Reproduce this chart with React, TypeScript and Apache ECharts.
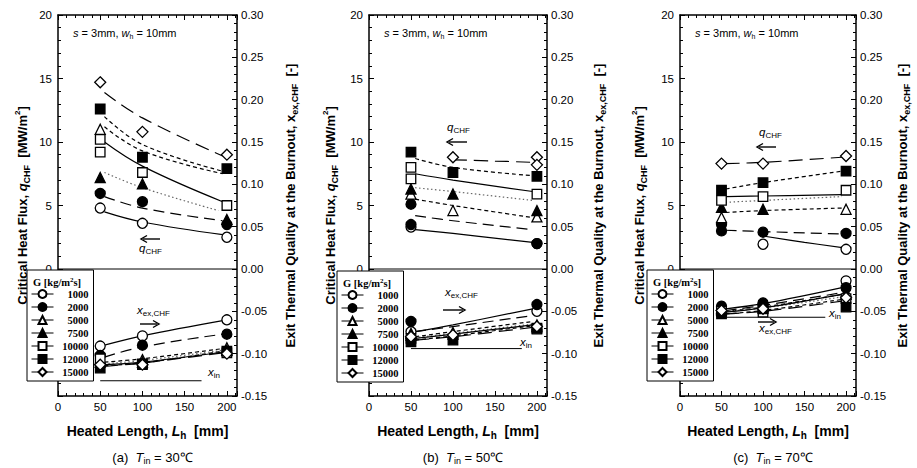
import React, { useEffect, useRef } from "react";
import * as echarts from "echarts";

// ---------------- DATA ----------------
// Mass flux levels G [kg/m2s] (order used by every nested array below)
const G_LEVELS = ["1000", "2000", "5000", "7500", "10000", "12000", "15000"];
const X_LABELS = [0, 50, 100, 150, 200];

// Panel (a) Tin = 30 C : measured q_CHF [MW/m2] as [L_h, q]
const Q_MARK_A = [
  [[50, 4.8], [100, 3.6], [200, 2.5]],
  [[50, 5.95], [100, 5.3], [200, 3.5]],
  [[50, 11.0]],
  [[50, 7.2], [100, 6.7], [200, 3.9]],
  [[50, 10.2], [50, 9.2], [100, 7.6], [200, 5.0]],
  [[50, 12.6], [100, 8.8], [200, 7.9]],
  [[50, 14.7], [100, 10.8], [200, 9.0]],
];
// correlation curves for q_CHF
const Q_FIT_A = [
  [[55, 4.5], [100, 3.7], [195, 2.7]],
  [[55, 5.7], [100, 4.8], [195, 3.8]],
  [[55, 11.2], [100, 9.3], [195, 7.5]],
  [[55, 7.6], [100, 6.4], [190, 4.6]],
  [[55, 10.0], [100, 8.1], [195, 5.3]],
  [[55, 12.0], [100, 9.8], [195, 7.7]],
  [[55, 13.9], [100, 11.9], [195, 8.9]],
];
// exit quality x_ex,CHF [-]
const X_MARK_A = [
  [[50, -0.091], [100, -0.079], [200, -0.06]],
  [[50, -0.102], [100, -0.09], [200, -0.077]],
  [[50, -0.107], [100, -0.107], [200, -0.093]],
  [[50, -0.11], [100, -0.11], [200, -0.096]],
  [[50, -0.106], [100, -0.113], [200, -0.099]],
  [[50, -0.117], [100, -0.112], [200, -0.097]],
  [[50, -0.113], [100, -0.113], [200, -0.1]],
];
const X_FIT_A = [
  [[55, -0.09], [100, -0.079], [195, -0.061]],
  [[55, -0.104], [100, -0.092], [195, -0.077]],
  [[55, -0.11], [100, -0.106], [195, -0.094]],
  [[55, -0.112], [100, -0.108], [195, -0.096]],
  [[55, -0.113], [100, -0.11], [195, -0.098]],
  [[55, -0.114], [100, -0.111], [195, -0.097]],
  [[55, -0.115], [100, -0.111], [195, -0.099]],
];
const XIN_A = [[50, -0.132], [170, -0.132]];

// Panel (b) Tin = 50 C
const Q_MARK_B = [
  [[50, 3.3], [200, 2.0]],
  [[50, 5.1], [50, 3.5], [200, 2.0]],
  [[50, 5.9], [100, 4.6], [200, 4.1]],
  [[50, 6.3], [100, 5.9], [200, 4.6]],
  [[50, 8.0], [50, 7.1], [200, 5.9]],
  [[50, 9.2], [100, 7.6], [200, 7.3]],
  [[100, 8.8], [200, 8.8], [200, 8.2]],
];
const Q_FIT_B = [
  [[55, 3.1], [100, 2.8], [195, 2.1]],
  [[55, 4.2], [100, 3.8], [195, 3.1]],
  [[55, 5.5], [100, 5.0], [195, 4.05]],
  [[55, 6.4], [100, 6.1], [195, 5.4]],
  [[55, 7.5], [100, 7.0], [195, 6.1]],
  [[55, 8.7], [100, 8.0], [195, 7.35]],
  [[100, 8.6], [150, 8.5], [195, 8.4]],
];
const X_MARK_B = [
  [[50, -0.074], [200, -0.05]],
  [[50, -0.062], [200, -0.042]],
  [[50, -0.076], [100, -0.075], [200, -0.066]],
  [[50, -0.078], [100, -0.077], [200, -0.068]],
  [[50, -0.082], [200, -0.071]],
  [[50, -0.086], [100, -0.084], [200, -0.07]],
  [[50, -0.08], [100, -0.078], [200, -0.068]],
];
const X_FIT_B = [
  [[55, -0.074], [100, -0.066], [195, -0.047]],
  [[55, -0.074], [100, -0.068], [195, -0.055]],
  [[55, -0.08], [100, -0.074], [195, -0.062]],
  [[55, -0.081], [100, -0.076], [195, -0.065]],
  [[55, -0.082], [100, -0.077], [195, -0.066]],
  [[55, -0.084], [100, -0.079], [195, -0.067]],
  [[55, -0.084], [100, -0.08], [195, -0.069]],
];
const XIN_B = [[50, -0.094], [182, -0.094]];

// Panel (c) Tin = 70 C
const Q_MARK_C = [
  [[100, 1.95], [200, 1.55]],
  [[50, 3.5], [50, 3.0], [100, 2.9], [200, 2.8]],
  [[50, 4.05], [200, 4.7]],
  [[50, 4.85], [100, 4.7]],
  [[50, 5.4], [100, 5.7], [200, 6.2]],
  [[50, 6.2], [100, 6.8], [200, 7.7]],
  [[50, 8.3], [100, 8.3], [200, 8.9]],
];
const Q_FIT_C = [
  [[100, 2.6], [150, 2.1], [200, 1.65]],
  [[55, 3.05], [100, 2.95], [195, 2.75]],
  [[55, 4.45], [100, 4.6], [195, 4.8]],
  [[55, 5.25], [100, 5.4], [195, 5.7]],
  [[55, 5.7], [100, 5.75], [195, 5.85]],
  [[55, 6.3], [100, 6.8], [195, 7.7]],
  [[55, 8.3], [100, 8.4], [195, 8.8]],
];
const X_MARK_C = [
  [[50, -0.045], [100, -0.043], [200, -0.014]],
  [[50, -0.044], [100, -0.04], [200, -0.022]],
  [[50, -0.048], [100, -0.046], [200, -0.03]],
  [[50, -0.046], [100, -0.044], [200, -0.027]],
  [[50, -0.05], [100, -0.051], [200, -0.035]],
  [[50, -0.053], [100, -0.047], [200, -0.045]],
  [[50, -0.049], [100, -0.047], [200, -0.034]],
];
const X_FIT_C = [
  [[55, -0.047], [100, -0.041], [195, -0.022]],
  [[55, -0.049], [100, -0.043], [195, -0.028]],
  [[55, -0.05], [100, -0.045], [195, -0.03]],
  [[55, -0.05], [100, -0.046], [195, -0.033]],
  [[55, -0.051], [100, -0.046], [195, -0.03]],
  [[55, -0.053], [100, -0.049], [195, -0.036]],
  [[55, -0.053], [100, -0.05], [195, -0.038]],
];
const XIN_C = [[50, -0.057], [175, -0.057]];

const PANEL_TAGS = ["(a)", "(b)", "(c)"];
const PANEL_TIN = ["30", "50", "70"];

// ---------------- STYLE / LAYOUT ----------------
const SANS = "'Liberation Sans', Arial, sans-serif";
const SERIF = "'Liberation Serif', 'Times New Roman', serif";
const X_MAX = 212;
const GRID_LEFT = [58, 369, 680];
const GRID_WIDTH = [179, 178, 176];
const GRID_TOP = 15;
const GRID_HEIGHT = 381;
const LEFT_NAME_GAP = [27, 30, 32];
const RIGHT_NAME_GAP = [44, 42, 37];
const LEGEND_POS = [[27, 270], [337, 271], [647, 270]];

const SYMBOLS = ["circle", "circle", "triangle", "triangle", "rect", "rect", "diamond"];
const SYM_SIZE = [10, 10, 10, 10, 9.5, 9.5, 11];
const FILLED = [false, true, false, true, false, true, false];
const DASH: any[] = ["solid", [11, 6], [4, 3], [1.5, 2.5], "solid", [4, 3], [14, 7]];
const LINE_COLOR = ["#000", "#000", "#000", "#666", "#000", "#000", "#000"];

const richSub = (size: number, bold: boolean, lh: number) => {
  const w = bold ? "bold" : "normal";
  return {
    i: { fontFamily: SANS, fontStyle: "italic", fontWeight: w, fontSize: size, lineHeight: lh, color: "#000", fill: "#000" },
    s: { fontFamily: SANS, fontWeight: w, fontSize: Math.round(size * 0.68), lineHeight: Math.round(size * 0.75), verticalAlign: "bottom", color: "#000", fill: "#000" },
    p: { fontFamily: SANS, fontWeight: w, fontSize: Math.round(size * 0.62), lineHeight: Math.round(size * 0.7), verticalAlign: "top", color: "#000", fill: "#000" },
    n: { fontFamily: SANS, fontWeight: w, fontSize: size, lineHeight: lh, color: "#000", fill: "#000" },
  };
};

function buildOption() {
  const panels = [
    [Q_MARK_A, Q_FIT_A, X_MARK_A, X_FIT_A, XIN_A],
    [Q_MARK_B, Q_FIT_B, X_MARK_B, X_FIT_B, XIN_B],
    [Q_MARK_C, Q_FIT_C, X_MARK_C, X_FIT_C, XIN_C],
  ] as any[];

  const grid: any[] = [];
  const xAxis: any[] = [];
  const yAxis: any[] = [];
  const series: any[] = [];
  const legend: any[] = [];
  const graphic: any[] = [];

  const tickCommon = {
    axisLine: { show: true, onZero: false, lineStyle: { color: "#000", width: 1.5 } },
    axisTick: { show: true, inside: true, length: 5, lineStyle: { color: "#000", width: 1 } },
    minorTick: { show: true, splitNumber: 5, length: 3, lineStyle: { color: "#000", width: 1 } },
    splitLine: { show: false },
  };

  panels.forEach((pd, p) => {
    const [qMark, qFit, xMark, xFit, xin] = pd;
    grid.push({ left: GRID_LEFT[p], top: GRID_TOP, width: GRID_WIDTH[p], height: GRID_HEIGHT, containLabel: false });

    xAxis.push({
      type: "value", gridIndex: p, position: "bottom", min: 0, max: X_MAX, interval: 50,
      ...tickCommon,
      axisLabel: {
        margin: 5, fontSize: 11.5, fontFamily: SANS, color: "#000",
        formatter: (v: number) => (X_LABELS.includes(v) ? String(v) : ""),
      },
      name: "Heated Length, {i|L}{s|h}  [mm]", nameLocation: "middle", nameGap: 26,
      nameTextStyle: { fontSize: 14, fontWeight: "bold", fontFamily: SANS, color: "#000", lineHeight: 18, rich: richSub(14, true, 18) },
    });
    xAxis.push({
      type: "value", gridIndex: p, position: "top", min: 0, max: X_MAX, interval: 50,
      ...tickCommon, axisLabel: { show: false },
    });
    yAxis.push({
      type: "value", gridIndex: p, position: "left", min: -10, max: 20, interval: 5,
      ...tickCommon,
      axisLabel: { margin: 6, fontSize: 11.5, fontFamily: SANS, color: "#000", formatter: (v: number) => (v >= 0 ? String(v) : "") },
      name: "Critical Heat Flux, {i|q}{s|CHF}  [MW/m{p|2}]", nameLocation: "middle", nameGap: LEFT_NAME_GAP[p],
      nameTextStyle: { fontSize: 13, fontWeight: "bold", fontFamily: SANS, color: "#000", lineHeight: 18, rich: richSub(13, true, 18) },
    });
    yAxis.push({
      type: "value", gridIndex: p, position: "right", min: -0.15, max: 0.3, interval: 0.05,
      ...tickCommon,
      axisLabel: { margin: 4, fontSize: 11.5, fontFamily: SANS, color: "#000", formatter: (v: number) => (Math.abs(v) < 1e-9 ? 0 : v).toFixed(2) },
      name: "Exit Thermal Quality at the Burnout, x{s|ex,CHF}  [-]", nameLocation: "middle", nameGap: RIGHT_NAME_GAP[p],
      nameTextStyle: { fontSize: 13, fontWeight: "bold", fontFamily: SANS, color: "#000", lineHeight: 18, rich: richSub(13, true, 18) },
    });

    const xb = 2 * p, yq = 2 * p, yx = 2 * p + 1;
    series.push({
      type: "line", name: "zero", xAxisIndex: xb, yAxisIndex: yx, data: [[0, 0], [X_MAX, 0]],
      symbol: "none", silent: true, lineStyle: { color: "#000", width: 1 }, z: 1,
    });
    series.push({
      type: "line", name: "x_in", xAxisIndex: xb, yAxisIndex: yx, data: xin,
      symbol: "none", silent: true, lineStyle: { color: "#000", width: 1 }, z: 2,
    });

    G_LEVELS.forEach((g, k) => {
      const fitStyle = { color: LINE_COLOR[k], width: 1.2, type: DASH[k] };
      series.push({ type: "line", name: g + " fit q", xAxisIndex: xb, yAxisIndex: yq, data: qFit[k], smooth: 0.4, symbol: "none", silent: true, lineStyle: fitStyle, z: 3 });
      series.push({ type: "line", name: g + " fit x", xAxisIndex: xb, yAxisIndex: yx, data: xFit[k], smooth: 0.4, symbol: "none", silent: true, lineStyle: fitStyle, z: 3 });
    });
    G_LEVELS.forEach((g, k) => {
      const mark = (data: any, yi: number) => ({
        type: "line", name: g, xAxisIndex: xb, yAxisIndex: yi, data,
        symbol: SYMBOLS[k], symbolSize: SYM_SIZE[k], showSymbol: true,
        lineStyle: { opacity: 0, width: 1 },
        itemStyle: { color: FILLED[k] ? "#000" : "#fff", borderColor: "#000", borderWidth: 1.3, opacity: 1 },
        emphasis: { disabled: true }, z: 5,
      });
      series.push(mark(qMark[k], yq));
      series.push(mark(xMark[k], yx));
    });

    legend.push({
      data: G_LEVELS, orient: "vertical", left: LEGEND_POS[p][0], top: LEGEND_POS[p][1],
      padding: [18, 5, 3, 4], itemGap: 1, itemWidth: 22, itemHeight: 10,
      backgroundColor: "#fff", borderColor: "#000", borderWidth: 1, borderRadius: 0,
      formatter: (name: string) => "{r|" + name + "}",
      textStyle: {
        fontFamily: SERIF, fontSize: 10.5, fontWeight: "bold", color: "#000", lineHeight: 12,
        rich: { r: { fontFamily: SERIF, fontSize: 10.5, fontWeight: "bold", color: "#000", width: 30, align: "right", lineHeight: 12 } },
      },
      lineStyle: { color: "#000", width: 1, opacity: 1, type: "solid" },
      selectedMode: false, z: 10,
    });

    const gl = GRID_LEFT[p];
    const center = gl + GRID_WIDTH[p] / 2;
    // legend header
    graphic.push({
      type: "text", x: LEGEND_POS[p][0] + 6, y: LEGEND_POS[p][1] + 12, z: 100,
      style: {
        text: "G [kg/m{p|2}s]", fontFamily: SERIF, fontSize: 10.5, fontWeight: "bold", fill: "#000", verticalAlign: "middle",
        rich: { p: { fontFamily: SERIF, fontSize: 7, fontWeight: "bold", verticalAlign: "top", lineHeight: 8, fill: "#000" } },
      },
    });
    // condition text
    graphic.push({
      type: "text", x: gl + 15, y: 33, z: 100,
      style: {
        text: "{i|s} = 3mm, {i|w}{s|h} = 10mm", fontFamily: SANS, fontSize: 11, fill: "#000", verticalAlign: "middle", lineHeight: 14,
        rich: richSub(11, false, 14),
      },
    });
    // caption
    graphic.push({
      type: "text", x: center + 5, y: 457, z: 100,
      style: {
        text: PANEL_TAGS[p] + "  {i|T}{s|in} = " + PANEL_TIN[p] + "℃", fontFamily: SANS, fontSize: 13, fill: "#000",
        align: "center", verticalAlign: "middle", lineHeight: 17, rich: richSub(13, false, 17),
      },
    });
  });

  // annotations (q_CHF with arrow, x_ex,CHF with arrow, x_in)
  const ann = (x: number, y: number, text: string) => ({
    type: "text", x, y, z: 100,
    style: { text, fontFamily: SANS, fontSize: 11.5, fill: "#000", verticalAlign: "middle", lineHeight: 15, rich: richSub(11.5, false, 15) },
  });
  const arrow = (x1: number, x2: number, y: number) => {
    const d = Math.sign(x2 - x1);
    return [
      { type: "line", z: 100, shape: { x1, y1: y, x2: x2 - d * 2, y2: y }, style: { stroke: "#000", lineWidth: 1.4 } },
      { type: "polyline", z: 100, shape: { points: [[x2 - d * 6, y - 3.5], [x2, y], [x2 - d * 6, y + 3.5]] }, style: { stroke: "#000", lineWidth: 1.4, fill: "none" } },
    ];
  };
  graphic.push(ann(139, 248, "{i|q}{s|CHF}"), ...arrow(160, 141, 239));
  graphic.push(ann(137, 310, "{i|x}{s|ex,CHF}"), ...arrow(140, 159, 324));
  graphic.push(ann(208, 372, "{i|x}{s|in}"));
  graphic.push(ann(447, 127, "{i|q}{s|CHF}"), ...arrow(467, 447, 142));
  graphic.push(ann(445, 292, "{i|x}{s|ex,CHF}"), ...arrow(443, 465, 310));
  graphic.push(ann(520, 342, "{i|x}{s|in}"));
  graphic.push(ann(759, 132, "{i|q}{s|CHF}"), ...arrow(776, 757, 147));
  graphic.push(ann(759, 328, "{i|x}{s|ex,CHF}"), ...arrow(758, 776, 322));
  graphic.push(ann(829, 313, "{i|x}{s|in}"));

  return {
    animation: false,
    backgroundColor: "#fff",
    textStyle: { fontFamily: SANS },
    grid, xAxis, yAxis, series, legend, graphic,
  };
}

export default function App() {
  const ref = useRef<HTMLDivElement>(null);
  useEffect(() => {
    if (!ref.current) return;
    const chart = echarts.init(ref.current, undefined, { renderer: "svg" });
    chart.setOption(buildOption() as any);
    return () => chart.dispose();
  }, []);
  return <div ref={ref} style={{ position: "absolute", left: 0, top: 0, width: 917, height: 468, background: "#fff" }} />;
}
